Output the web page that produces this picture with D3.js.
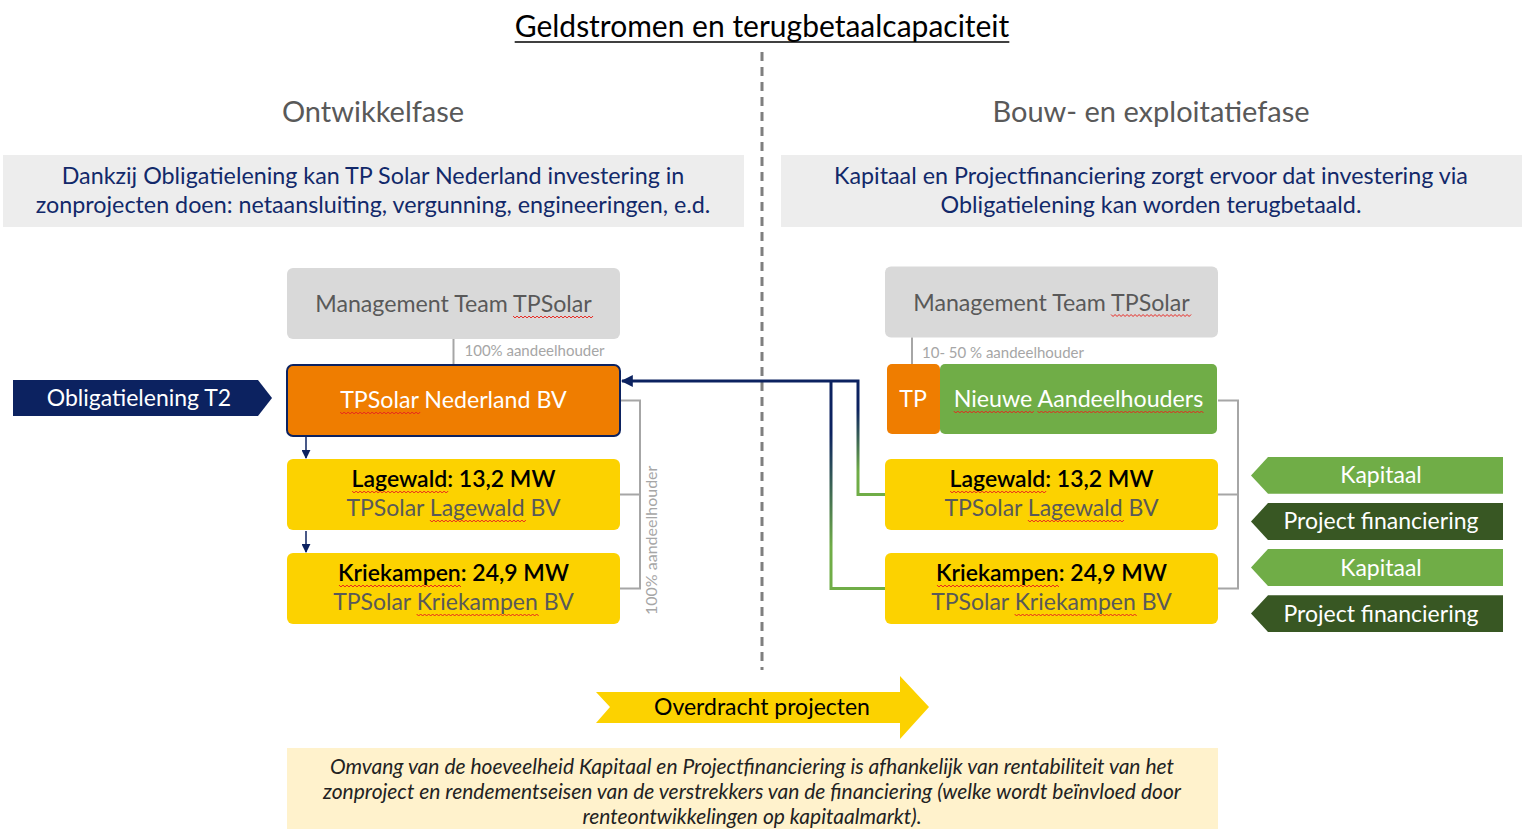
<!DOCTYPE html>
<html>
<head>
<meta charset="utf-8">
<script src="https://cdn.jsdelivr.net/npm/d3@7"></script>
<style>
  body { margin: 0; background: #fff; }
  svg { display: block; font-family: Lato, "Open Sans", sans-serif; }
</style>
</head>
<body>
<div id="chart"></div>
<script>
// texts of the diagram
const titleText = "Geldstromen en terugbetaalcapaciteit";
const phases = ["Ontwikkelfase", "Bouw- en exploitatiefase"];
const phaseNotes = [
  ["Dankzij Obligatielening kan TP Solar Nederland investering in",
   "zonprojecten doen: netaansluiting, vergunning, engineeringen, e.d."],
  ["Kapitaal en Projectfinanciering zorgt ervoor dat investering via",
   "Obligatielening kan worden terugbetaald."]
];
const managementLabel = "Management Team TPSolar";
const shareLabels = ["100% aandeelhouder", "10- 50 % aandeelhouder"];
const holdingLabel = "TPSolar Nederland BV";
const newHolders = ["TP", "Nieuwe Aandeelhouders"];
const projectNames = ["Lagewald", "Kriekampen"];
const projectMW = [13.2, 24.9];
const financing = ["Kapitaal", "Project financiering"];
const bondLabel = "Obligatielening T2";
const transferLabel = "Overdracht projecten";
const footnote = [
  "Omvang van de hoeveelheid Kapitaal en Projectfinanciering is afhankelijk van rentabiliteit van het",
  "zonproject en rendementseisen van de verstrekkers van de financiering (welke wordt beïnvloed door",
  "renteontwikkelingen op kapitaalmarkt)."
];

// layout
const width = 1522, height = 829;
const boxW = 333, boxH = 71;
const colX = d3.scaleOrdinal().domain(phases).range([287, 885]);
const rowY = d3.scaleOrdinal().domain(["mgmt", "holding", 0, 1]).range([268, 365, 459, 553]);
const phaseX = d3.scaleOrdinal().domain(phases).range([373, 1151]);
const finY = d3.scaleBand().domain(d3.range(4)).range([457, 632]).paddingInner(0.2);

const navy = "#0c2260", orange = "#ef7d00", yellow = "#fcd200",
      green = "#70ad47", darkGreen = "#385723", grey = "#a6a6a6";
const fmt = v => d3.format(".1f")(v).replace(".", ",");

const svg = d3.select("#chart").append("svg")
    .attr("width", width).attr("height", height);

const defs = svg.append("defs");
defs.append("marker")
    .attr("id", "head")
    .attr("viewBox", "0 0 10 10")
    .attr("refX", 9).attr("refY", 5)
    .attr("markerWidth", 4).attr("markerHeight", 4)
    .attr("markerUnits", "strokeWidth")
    .attr("orient", "auto")
  .append("path").attr("d", "M0,0 L10,5 L0,10 Z").attr("fill", navy);
defs.append("marker")
    .attr("id", "headSmall")
    .attr("viewBox", "0 0 10 10")
    .attr("refX", 9).attr("refY", 5)
    .attr("markerWidth", 6).attr("markerHeight", 6)
    .attr("markerUnits", "strokeWidth")
    .attr("orient", "auto")
  .append("path").attr("d", "M0,0 L10,5 L0,10 Z").attr("fill", navy);

// red spell-check squiggle under a word of a text element
function squiggle(textSel, str, word) {
  const node = textSel.node();
  const idx = str.indexOf(word);
  if (idx < 0) return;
  const x0 = node.getStartPositionOfChar(idx).x;
  const x1 = node.getEndPositionOfChar(idx + word.length - 1).x;
  const y = +textSel.attr("y") + 4;
  let d = "M" + x0 + "," + y;
  for (let x = x0, k = 0; x < x1; x += 2, k++) {
    d += " L" + (x + 2) + "," + (y + (k % 2 ? 0 : 2));
  }
  svg.append("path").attr("d", d).attr("fill", "none")
    .attr("stroke", "#e8251f").attr("stroke-width", 1);
}

function label(x, y, str, size, fill, words) {
  const t = svg.append("text")
      .attr("x", x).attr("y", y)
      .attr("text-anchor", "middle")
      .attr("font-size", size)
      .attr("fill", fill)
      .text(str);
  (words || []).forEach(w => squiggle(t, str, w));
  return t;
}

// title
const title = label(762, 37, titleText, 30, "#000");
const tw = title.node().getComputedTextLength();
svg.append("line").attr("x1", 762 - tw / 2).attr("x2", 762 + tw / 2)
  .attr("y1", 42).attr("y2", 42).attr("stroke", "#000").attr("stroke-width", 1.5);

// separator
svg.append("line").attr("x1", 762).attr("x2", 762).attr("y1", 52).attr("y2", 670)
  .attr("stroke", "#7f7f7f").attr("stroke-width", 3).attr("stroke-dasharray", "9,6");

// phase headings and notes
phases.forEach((p, i) => {
  label(phaseX(p), 122, p, 29, "#595959");
  svg.append("rect")
    .attr("x", phaseX(p) - 370).attr("y", 155)
    .attr("width", 741).attr("height", 72)
    .attr("fill", "#ededed");
  phaseNotes[i].forEach((line, j) => label(phaseX(p), 184 + j * 29, line, 23.3, "#12296a"));
});

// management boxes
phases.forEach((p, i) => {
  svg.append("rect")
    .attr("x", colX(p)).attr("y", rowY("mgmt") - i * 1.5)
    .attr("width", boxW).attr("height", boxH).attr("rx", 6)
    .attr("fill", "#d9d9d9");
  label(colX(p) + boxW / 2, rowY("mgmt") - i * 1.5 + 44, managementLabel, 23.2, "#595959", ["TPSolar"]);
});

// shareholder links from management
const shareLinkX = [colX(phases[0]) + boxW / 2, colX(phases[1]) + 27];
phases.forEach((p, i) => {
  svg.append("line")
    .attr("x1", shareLinkX[i]).attr("x2", shareLinkX[i])
    .attr("y1", rowY("mgmt") + boxH - i * 1.5).attr("y2", rowY("holding"))
    .attr("stroke", grey).attr("stroke-width", 2);
  svg.append("text")
    .attr("x", shareLinkX[i] + 11 - i * 1).attr("y", rowY("holding") - 9 + i * 2)
    .attr("font-size", 15).attr("fill", grey)
    .text(shareLabels[i]);
});

// brackets from holding to projects
const bracketX = [colX(phases[0]) + boxW + 20, colX(phases[1]) + boxW + 20];
phases.forEach((p, i) => {
  const top = rowY("holding") + boxH / 2;
  const yA = rowY(0) + boxH / 2, yB = rowY(1) + boxH / 2;
  svg.append("path")
    .attr("d", "M" + (colX(p) + boxW) + "," + top + " H" + bracketX[i] + " V" + yB +
      " H" + (colX(p) + boxW) + " M" + (colX(p) + boxW) + "," + yA + " H" + bracketX[i])
    .attr("fill", "none").attr("stroke", grey).attr("stroke-width", 2);
});
svg.append("text")
  .attr("transform", "translate(" + (bracketX[0] + 17) + "," + (rowY(1) + 62) + ") rotate(-90)")
  .attr("font-size", 16).attr("fill", grey)
  .text(shareLabels[0]);

// holding company (left)
svg.append("rect")
  .attr("x", colX(phases[0])).attr("y", rowY("holding"))
  .attr("width", boxW).attr("height", boxH).attr("rx", 6)
  .attr("fill", orange).attr("stroke", navy).attr("stroke-width", 2);
label(colX(phases[0]) + boxW / 2, rowY("holding") + 43, holdingLabel, 23.2, "#fff", ["TPSolar"]);

// new shareholders (right)
svg.append("rect")
  .attr("x", colX(phases[1]) + 2).attr("y", rowY("holding") - 1)
  .attr("width", 53).attr("height", boxH - 1).attr("rx", 5)
  .attr("fill", orange);
svg.append("rect")
  .attr("x", colX(phases[1]) + 55).attr("y", rowY("holding") - 1)
  .attr("width", boxW - 56).attr("height", boxH - 1).attr("rx", 5)
  .attr("fill", green);
label(colX(phases[1]) + 28, rowY("holding") + 42, newHolders[0], 23.2, "#fff");
label(colX(phases[1]) + 55 + (boxW - 56) / 2, rowY("holding") + 42, newHolders[1], 23.2, "#fff", ["Nieuwe", "Aandeelhouders"]);

// project boxes
phases.forEach(p => {
  projectNames.forEach((name, j) => {
    svg.append("rect")
      .attr("x", colX(p)).attr("y", rowY(j))
      .attr("width", boxW).attr("height", boxH).attr("rx", 6)
      .attr("fill", yellow);
    label(colX(p) + boxW / 2, rowY(j) + 28, name + ": " + fmt(projectMW[j]) + " MW", 23, "#000", [name])
      .attr("font-weight", 600);
    label(colX(p) + boxW / 2, rowY(j) + 57, "TPSolar " + name + " BV", 23, "#595959", [name]);
  });
});

// small navy arrows on the left column
[[rowY("holding") + boxH + 1, rowY(0) - 1], [rowY(0) + boxH + 1, rowY(1) - 1]].forEach(seg => {
  svg.append("line")
    .attr("x1", colX(phases[0]) + 19).attr("x2", colX(phases[0]) + 19)
    .attr("y1", seg[0]).attr("y2", seg[1])
    .attr("stroke", navy).attr("stroke-width", 1.5)
    .attr("marker-end", "url(#headSmall)");
});

// repayment flows: projects -> holding
const flowX = [858, 831];
const arrowY = rowY("holding") + 16;
projectNames.forEach((name, j) => {
  const yEnd = rowY(j) + boxH / 2;
  const gid = "flow" + j;
  const g = defs.append("linearGradient").attr("id", gid)
    .attr("gradientUnits", "userSpaceOnUse")
    .attr("x1", 0).attr("x2", 0).attr("y1", arrowY).attr("y2", yEnd);
  g.append("stop").attr("offset", "0.25").attr("stop-color", navy);
  g.append("stop").attr("offset", "0.8").attr("stop-color", green);
  const d = j === 0
    ? "M" + colX(phases[1]) + "," + yEnd + " H" + flowX[j] + " V" + arrowY + " H" + (colX(phases[0]) + boxW + 2)
    : "M" + colX(phases[1]) + "," + yEnd + " H" + flowX[j] + " V" + arrowY;
  svg.append("path")
    .attr("d", d).attr("fill", "none")
    .attr("stroke", "url(#" + gid + ")").attr("stroke-width", 3)
    .attr("marker-end", j === 0 ? "url(#head)" : null);
});

// financing arrows
const finLeft = 1251, finRight = 1503;
d3.range(4).forEach(k => {
  const top = finY(k), h = finY.bandwidth(), mid = top + h / 2;
  svg.append("path")
    .attr("d", "M" + (finLeft + 17) + "," + top + " H" + finRight + " V" + (top + h) +
      " H" + (finLeft + 17) + " L" + finLeft + "," + mid + " Z")
    .attr("fill", k % 2 ? darkGreen : green);
  label(1381, mid + 8, financing[k % 2], 23, "#fff");
});

// bond arrow
svg.append("path")
  .attr("d", "M13,380 H258 L272,398 L258,416 H13 Z")
  .attr("fill", navy);
label(139, 406, bondLabel, 23, "#fff");

// transfer arrow
svg.append("path")
  .attr("d", "M596,692 H900 V676 L929,707 L900,739 V723 H596 L610,707 Z")
  .attr("fill", yellow);
label(762, 715, transferLabel, 23, "#000");

// footnote
svg.append("rect")
  .attr("x", 287).attr("y", 748).attr("width", 931).attr("height", 81)
  .attr("fill", "#fff2cc");
footnote.forEach((line, i) => {
  label(752, 774 + i * 25, line, 21, "#222").attr("font-style", "italic");
});
</script>
</body>
</html>
